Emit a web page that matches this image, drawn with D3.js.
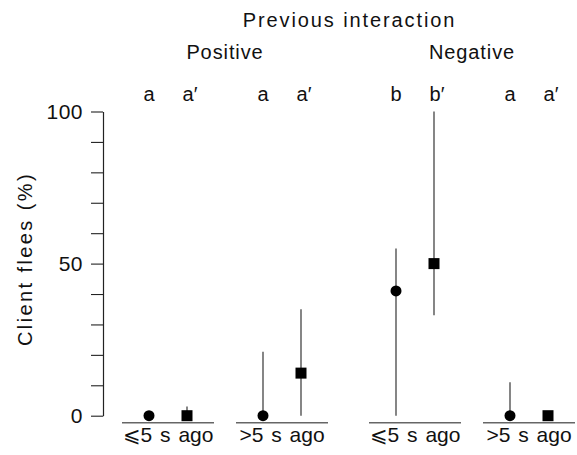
<!DOCTYPE html>
<html>
<head>
<meta charset="utf-8">
<script src="https://cdn.jsdelivr.net/npm/d3@7"></script>
<style>
  body { margin: 0; background: #fff; }
  text { font-family: "Liberation Sans", Arial, sans-serif; fill: #111; }
</style>
</head>
<body>
<div id="chart"></div>
<script>
// data
var interactions = ["Positive", "Negative"];
var times = ["\u2A7D5 s ago", ">5 s ago"];
var groups = [
  {interaction: "Positive", time: times[0]},
  {interaction: "Positive", time: times[1]},
  {interaction: "Negative", time: times[0]},
  {interaction: "Negative", time: times[1]}
];
var circleValues = [0, 0, 41, 0];
var circleLower = [0, 0, 0, 0];
var circleUpper = [0, 21, 55, 11];
var squareValues = [0, 14, 50, 0];
var squareLower = [0, 0, 33, 0];
var squareUpper = [3, 35, 100, 0];
var circleLetters = ["a", "a", "b", "a"];
var squareLetters = ["a\u2032", "a\u2032", "b\u2032", "a\u2032"];
var yTicks = [0, 10, 20, 30, 40, 50, 60, 70, 80, 90, 100];
var yLabels = [0, 50, 100];

(function () {
    var width = 577,
        height = 455;

    var svg = d3.select("#chart")
        .append("svg")
        .attr("width", width)
        .attr("height", height);

    var y = d3.scaleLinear().domain([0, 100]).range([415.7, 111.5]);

    // outer = interaction, inner = time since, offset = series
    var xOuter = d3.scalePoint().domain(interactions).range([225, 472]);
    var xInner = d3.scalePoint().domain(times).range([-57, 57]);
    var xSeries = d3.scalePoint().domain(["circle", "square"]).range([-19, 19]);

    function groupX(g) {
        return xOuter(g.interaction) + xInner(g.time);
    }

    // y axis
    var yAxis = d3.axisLeft(y)
        .tickValues(yTicks)
        .tickSize(12)
        .tickSizeOuter(0)
        .tickPadding(8)
        .tickFormat(function (d) { return yLabels.indexOf(d) >= 0 ? d : ""; });

    var ax = svg.append("g")
        .attr("transform", "translate(103,0)")
        .call(yAxis);
    ax.select(".domain").attr("stroke", "#222").attr("stroke-width", 1.2);
    ax.selectAll(".tick line").attr("stroke", "#222").attr("stroke-width", 1.1);
    ax.selectAll(".tick text")
        .style("font-size", "21px")
        .style("font-family", "Liberation Sans, Arial, sans-serif")
        .style("letter-spacing", "0.5px")
        .attr("fill", "#111");

    svg.append("text")
        .attr("transform", "translate(32,259) rotate(-90)")
        .attr("text-anchor", "middle")
        .style("font-size", "20px")
        .style("letter-spacing", "2.4px")
        .text("Client flees (%)");

    // baselines under each group
    svg.selectAll(".baseline")
        .data(groups)
        .enter().append("line")
        .attr("class", "baseline")
        .attr("x1", function (d) { return groupX(d) - 46; })
        .attr("x2", function (d) { return groupX(d) + 46; })
        .attr("y1", y(0) + 7)
        .attr("y2", y(0) + 7)
        .attr("stroke", "#666")
        .attr("stroke-width", 1.6);

    // error bars
    function bars(cls, series, lower, upper) {
        svg.selectAll("." + cls)
            .data(groups)
            .enter().append("line")
            .attr("class", cls)
            .attr("x1", function (d) { return groupX(d) + xSeries(series); })
            .attr("x2", function (d) { return groupX(d) + xSeries(series); })
            .attr("y1", function (d, i) { return y(lower[i]); })
            .attr("y2", function (d, i) { return y(upper[i]); })
            .attr("stroke", "#222")
            .attr("stroke-width", 1.1);
    }
    bars("cbar", "circle", circleLower, circleUpper);
    bars("sbar", "square", squareLower, squareUpper);

    svg.selectAll(".dot")
        .data(groups)
        .enter().append("circle")
        .attr("class", "dot")
        .attr("cx", function (d) { return groupX(d) + xSeries("circle"); })
        .attr("cy", function (d, i) { return y(circleValues[i]); })
        .attr("r", 5.5)
        .attr("fill", "#000");

    svg.selectAll(".sq")
        .data(groups)
        .enter().append("rect")
        .attr("class", "sq")
        .attr("x", function (d) { return groupX(d) + xSeries("square") - 5.5; })
        .attr("y", function (d, i) { return y(squareValues[i]) - 5.5; })
        .attr("width", 11)
        .attr("height", 11)
        .attr("fill", "#000");

    // significance letters
    svg.selectAll(".lc")
        .data(groups)
        .enter().append("text")
        .attr("class", "lc")
        .attr("x", function (d) { return groupX(d) + xSeries("circle"); })
        .attr("y", 101)
        .attr("text-anchor", "middle")
        .style("font-size", "20px")
        .text(function (d, i) { return circleLetters[i]; });
    svg.selectAll(".ls")
        .data(groups)
        .enter().append("text")
        .attr("class", "ls")
        .attr("x", function (d) { return groupX(d) + xSeries("square") + 3; })
        .attr("y", 101)
        .attr("text-anchor", "middle")
        .style("font-size", "20px")
        .text(function (d, i) { return squareLetters[i]; });

    // x labels
    svg.selectAll(".xl")
        .data(groups)
        .enter().append("text")
        .attr("class", "xl")
        .attr("x", function (d) { return groupX(d); })
        .attr("y", 442)
        .attr("text-anchor", "middle")
        .style("font-size", "21px")
        .style("word-spacing", "2px")
        .text(function (d) { return d.time; });

    // headers
    svg.selectAll(".hdr")
        .data(interactions)
        .enter().append("text")
        .attr("class", "hdr")
        .attr("x", function (d) { return xOuter(d); })
        .attr("y", 59)
        .attr("text-anchor", "middle")
        .style("font-size", "20px")
        .style("letter-spacing", "0.9px")
        .text(function (d) { return d; });

    svg.append("text")
        .attr("x", (xOuter(interactions[0]) + xOuter(interactions[1])) / 2 + 1)
        .attr("y", 27)
        .attr("text-anchor", "middle")
        .style("font-size", "20px")
        .style("letter-spacing", "1.9px")
        .text("Previous interaction");
})();
</script>
</body>
</html>
